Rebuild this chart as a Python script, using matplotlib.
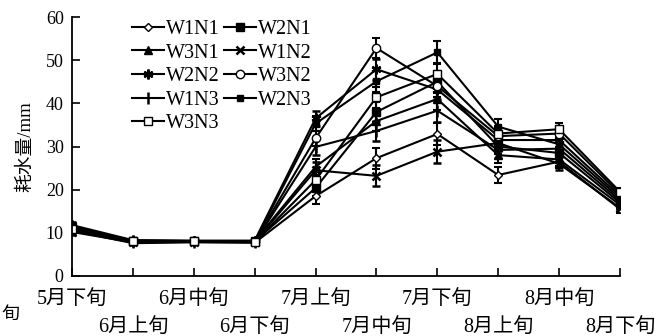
import numpy as np
import matplotlib.pyplot as plt
import matplotlib.transforms as mtransforms
from matplotlib.lines import Line2D

plt.rcParams['font.family'] = ['Liberation Serif', 'Noto Sans CJK SC', 'DejaVu Sans']

# ten-day periods
periods = ['5月下旬', '6月上旬', '6月中旬', '6月下旬', '7月上旬',
           '7月中旬', '7月下旬', '8月上旬', '8月中旬', '8月下旬']

# water consumption (mm)
W1N1 = [10.5, 7.6, 7.8, 7.7, 18.5, 27.3, 32.9, 23.4, 26.5, 15.5]
W2N1 = [11.0, 8.0, 8.0, 8.0, 20.4, 38.0, 45.0, 30.0, 28.5, 17.0]
W3N1 = [11.5, 8.2, 8.1, 8.1, 25.3, 35.9, 41.0, 28.0, 27.0, 16.5]
W1N2 = [10.2, 7.8, 7.9, 7.9, 24.5, 23.2, 28.8, 30.8, 26.0, 15.8]
W2N2 = [11.8, 8.3, 8.2, 8.2, 36.5, 47.9, 43.2, 31.5, 31.5, 18.5]
W3N2 = [11.2, 8.1, 8.0, 8.0, 31.9, 52.8, 44.0, 32.4, 33.0, 19.0]
W1N3 = [10.8, 7.9, 7.9, 7.8, 29.9, 33.6, 38.3, 29.2, 29.5, 17.5]
W2N3 = [11.4, 8.2, 8.1, 8.0, 35.3, 45.1, 51.8, 34.6, 30.5, 18.0]
W3N3 = [11.0, 8.0, 8.0, 7.9, 22.2, 41.4, 46.8, 33.0, 34.0, 19.5]
# error bar half-length per period
err = [0.8, 0.5, 0.5, 0.5, 1.8, 2.4, 2.6, 1.8, 1.5, 0.8]

series = [
    ('W1N1', W1N1, dict(marker='D', markersize=4, mfc='white')),
    ('W2N1', W2N1, dict(marker='s', markersize=6, mfc='black')),
    ('W3N1', W3N1, dict(marker='^', markersize=6, mfc='black')),
    ('W1N2', W1N2, dict(marker='x', markersize=6, mew=1.8)),
    ('W2N2', W2N2, dict(marker=(6, 2, 0), markersize=7, mew=1.8)),
    ('W3N2', W3N2, dict(marker='o', markersize=6, mfc='white')),
    ('W1N3', W1N3, dict(marker='|', markersize=8, mew=1.8)),
    ('W2N3', W2N3, dict(marker='s', markersize=5, mfc='black')),
    ('W3N3', W3N3, dict(marker='s', markersize=6, mfc='white')),
]

fig = plt.figure(figsize=(6.59, 3.36), dpi=100)
ax = fig.add_axes([72 / 659, 1 - 276 / 336, 548 / 659, 259 / 336])

x = np.arange(len(periods))
handles = {}
for name, vals, style in series:
    ax.errorbar(x, vals, yerr=err, color='black', lw=1.5, capsize=3,
                elinewidth=1.5, capthick=1.5, mec='black', **style)
    handles[name] = Line2D([], [], color='black', lw=1.5, mec='black', **style)

ax.set_xlim(0, 9)
ax.set_ylim(0, 60)
ax.set_yticks(np.arange(0, 61, 10))
ax.set_xticks(x)
ax.set_xticklabels(periods, fontsize=14.5)
ax.tick_params(axis='both', direction='in', length=6, width=1.2, labelsize=13)
ax.tick_params(axis='x', pad=10, labelsize=14.5)
ax.tick_params(axis='y', pad=6)
for s in ['top', 'right']:
    ax.spines[s].set_visible(False)
for s in ['left', 'bottom']:
    ax.spines[s].set_linewidth(1.3)

# stagger the tick labels on two rows
shift = mtransforms.ScaledTranslation(0, -28 / 100, fig.dpi_scale_trans)
for i, lab in enumerate(ax.get_xticklabels()):
    if i % 2 == 1:
        lab.set_transform(lab.get_transform() + shift)

ax.set_ylabel('耗水量/mm', fontsize=13.5, labelpad=8)

# legend filled row by row (two columns)
order = ['W1N1', 'W3N1', 'W2N2', 'W1N3', 'W3N3', 'W2N1', 'W1N2', 'W3N2', 'W2N3']
ax.legend([handles[n] for n in order], order, loc='upper left',
          bbox_to_anchor=(0.095, 1.02), ncol=2, frameon=False,
          fontsize=14.5, handlelength=1.6, handletextpad=0.1, columnspacing=0.2,
          labelspacing=0.22, borderaxespad=0)

# label fragment at the left edge
fig.text(1 / 659, 1 - 314 / 336, '旬', ha='left', va='center', fontsize=13)

fig.savefig('out.png', dpi=100)
